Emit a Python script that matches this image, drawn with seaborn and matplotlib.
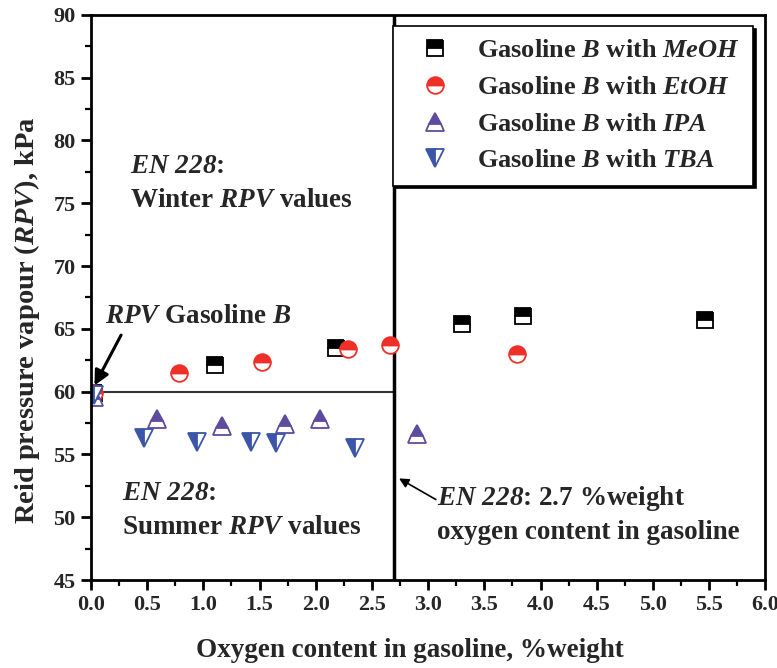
import matplotlib
matplotlib.use("Agg")
import matplotlib.pyplot as plt
import seaborn as sns
import numpy as np

sns.set_theme(style="white")
plt.rcParams['font.family'] = ['Liberation Serif', 'DejaVu Serif']
plt.rcParams['font.weight'] = 'bold'
plt.rcParams['mathtext.fontset'] = 'custom'
plt.rcParams['mathtext.rm'] = 'Liberation Serif:bold'
plt.rcParams['mathtext.bf'] = 'Liberation Serif:bold'
plt.rcParams['mathtext.it'] = 'Liberation Serif:italic:bold'
plt.rcParams['mathtext.sf'] = 'Liberation Serif:italic:bold'

# Data
meoh_x = [0.03, 1.10, 2.18, 3.30, 3.84, 5.46]
meoh_y = [59.9, 62.1, 63.5, 65.4, 66.0, 65.7]
etoh_x = [0.03, 0.78, 1.52, 2.29, 2.66, 3.79]
etoh_y = [59.9, 61.5, 62.4, 63.4, 63.7, 63.0]
ipa_x = [0.03, 0.59, 1.17, 1.73, 2.04, 2.90]
ipa_y = [59.6, 57.8, 57.3, 57.4, 57.8, 56.6]
tba_x = [0.03, 0.47, 0.94, 1.42, 1.65, 2.35]
tba_y = [59.7, 56.3, 56.0, 56.0, 55.9, 55.5]

labels = [r"Gasoline $B$ with $MeOH$", r"Gasoline $B$ with $EtOH$",
          r"Gasoline $B$ with $IPA$", r"Gasoline $B$ with $TBA$"]

fig = plt.figure(figsize=(7.77, 6.68), dpi=100)
ax = fig.add_axes([0.117, 0.1317, 0.868, 0.846])

red = '#EE3029'
purple = '#5E4B9E'
blue = '#3B55A8'

common = dict(estimator=None, sort=False, linestyle='', ax=ax)
sns.lineplot(x=meoh_x, y=meoh_y, marker='s', markersize=11, color='black',
             markerfacecolor='black', markerfacecoloralt='white', fillstyle='top',
             markeredgecolor='black', markeredgewidth=1.3, label=labels[0], **common)
sns.lineplot(x=etoh_x, y=etoh_y, marker='o', markersize=12, color=red,
             markerfacecolor=red, markerfacecoloralt='white', fillstyle='top',
             markeredgecolor=red, markeredgewidth=1.3, label=labels[1], **common)
sns.lineplot(x=ipa_x, y=ipa_y, marker='^', markersize=13.5, color=purple,
             markerfacecolor=purple, markerfacecoloralt='white', fillstyle='top',
             markeredgecolor=purple, markeredgewidth=1.3, label=labels[2], **common)
sns.lineplot(x=tba_x, y=tba_y, marker='v', markersize=13.5, color=blue,
             markerfacecolor=blue, markerfacecoloralt='white', fillstyle='left',
             markeredgecolor=blue, markeredgewidth=1.3, label=labels[3], **common)

# Reference lines
ax.plot([0, 2.7], [60, 60], color='#333333', lw=1.5, zorder=1)
ax.axvline(2.7, color='black', lw=2.5, zorder=1)

ax.set_xlim(0, 6)
ax.set_ylim(45, 90)
ax.set_xticks(np.arange(0, 6.01, 0.5))
ax.set_xticklabels([f"{v:.1f}" for v in np.arange(0, 6.01, 0.5)])
ax.set_yticks(np.arange(45, 90.1, 5))
ax.set_xticks(np.arange(0, 6.01, 0.25), minor=True)
ax.set_yticks(np.arange(45, 90.1, 2.5), minor=True)
ax.tick_params(axis='both', which='major', direction='out', length=7, width=2,
               labelsize=16, bottom=True, left=True, pad=4, color='black')
ax.tick_params(axis='both', which='minor', direction='out', length=4, width=1.6,
               bottom=True, left=True, color='black')
for lab in ax.get_xticklabels() + ax.get_yticklabels():
    lab.set_fontweight('bold')
for s in ax.spines.values():
    s.set_visible(True)
    s.set_color('black')
    s.set_linewidth(2)

ax.set_xlabel("Oxygen content in gasoline, %weight", fontsize=19.5, fontweight='bold')
ax.set_ylabel(r"Reid pressure vapour ($RPV$), kPa", fontsize=20.5, fontweight='bold')
ax.xaxis.set_label_coords(0.473, -0.102)
ax.yaxis.set_label_coords(-0.072, 0.46)

fs = 19.5
ax.text(0.35, 77.9, r"$\mathsf{EN\ 228}$:", fontsize=fs, va='center', ha='left')
ax.text(0.35, 75.2, r"Winter $RPV$ values", fontsize=fs, va='center', ha='left')
ax.text(0.125, 66.0, r"$RPV$ Gasoline $B$", fontsize=fs, va='center', ha='left')
ax.text(0.28, 51.9, r"$\mathsf{EN\ 228}$:", fontsize=fs, va='center', ha='left')
ax.text(0.28, 49.2, r"Summer $RPV$ values", fontsize=fs, va='center', ha='left')
ax.text(3.08, 51.5, r"$\mathsf{EN\ 228}$: 2.7 %weight", fontsize=fs, va='center', ha='left')
ax.text(3.08, 48.8, "oxygen content in gasoline", fontsize=fs, va='center', ha='left')

ax.annotate("", xy=(0.02, 60.3), xytext=(0.28, 64.7),
            arrowprops=dict(arrowstyle='-|>', color='black', lw=2.2, mutation_scale=22))
ax.annotate("", xy=(2.72, 53.2), xytext=(3.09, 51.3),
            arrowprops=dict(arrowstyle='-|>', color='black', lw=1.2, mutation_scale=14))

leg = ax.legend(loc='upper right', bbox_to_anchor=(0.99, 0.99), fontsize=19,
                frameon=True, fancybox=False, shadow={'color': 'black', 'alpha': 1},
                handletextpad=0.5, borderpad=0.5, labelspacing=0.5, handlelength=2.2,
                borderaxespad=0.2)
leg.get_frame().set_edgecolor('black')
leg.get_frame().set_linewidth(1.2)
for t in leg.get_texts():
    t.set_fontweight('bold')

fig.savefig("out.png", dpi=100)
